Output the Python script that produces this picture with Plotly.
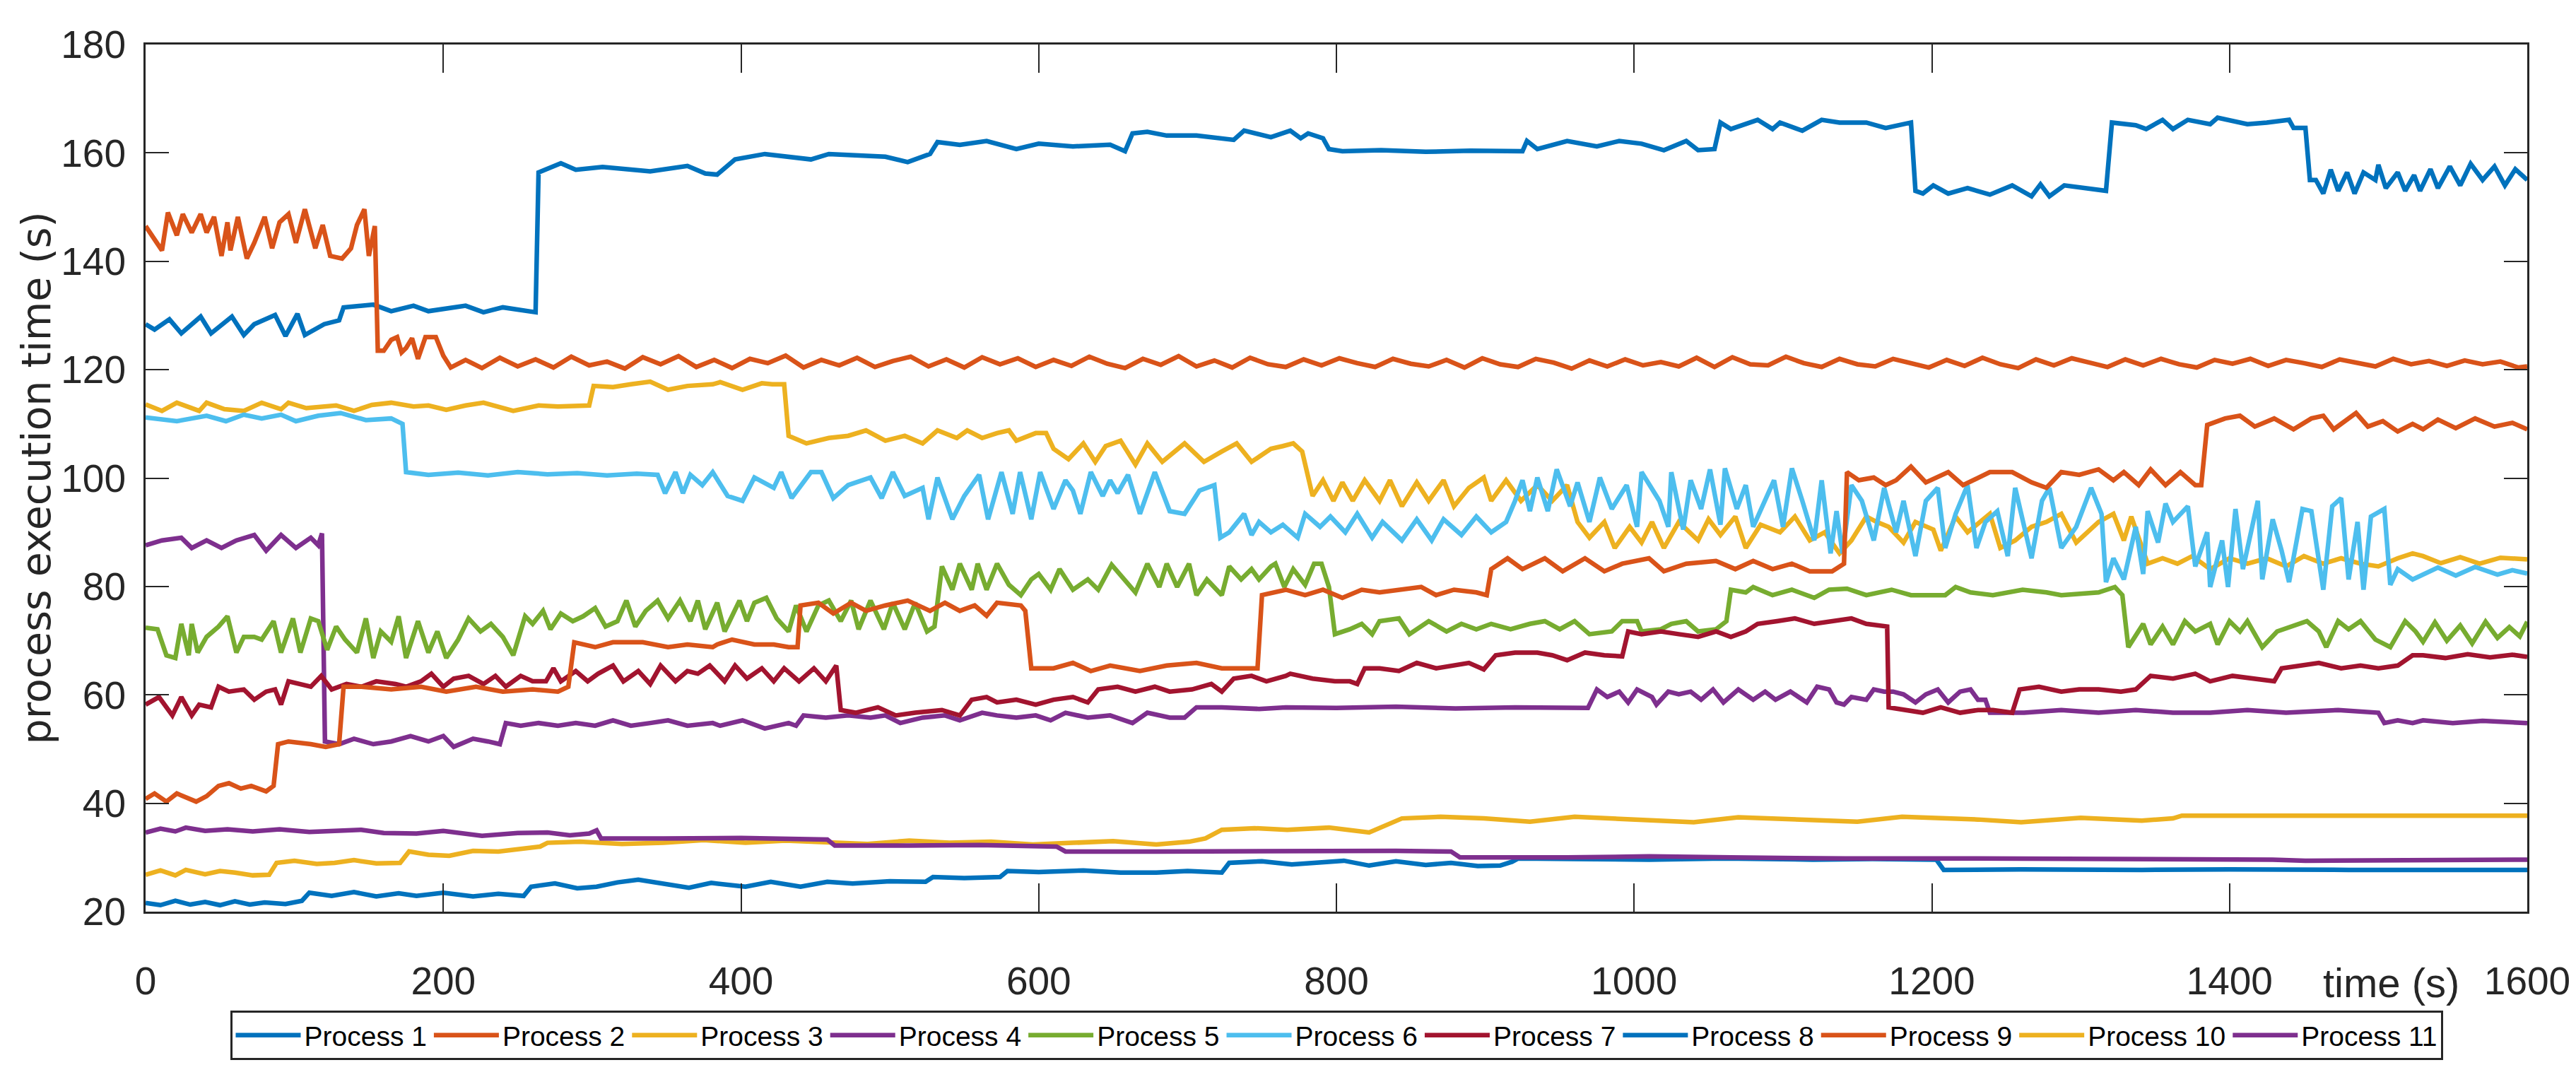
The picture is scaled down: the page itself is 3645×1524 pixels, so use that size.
import plotly.graph_objects as go

# ---------------- data (time s, execution time s) ----------------
p1 = [(0,128.4),(6,127.4),(16,129.3),(24,126.7),(37,129.8),(44,126.7),(58,129.8),(66,126.4),(73,128.4),(87,130.1),
      (94,126.2),(102,130.3),(107,126.4),(120,128.4),(130,129.1),(133,131.5),(153,132.0),(165,130.8),(180,131.8),(190,130.8),
      (215,131.8),(227,130.6),(240,131.5),(262,130.6),(264,156.4),(279,158.1),(289,156.9),(307,157.4),(339,156.6),(364,157.6),
      (376,156.2),(384,156.0),(396,158.8),(416,159.8),(447,158.8),(459,159.8),(497,159.3),(512,158.3),(527,159.8),(532,162.0),
      (547,161.5),(565,162.2),(585,160.7),(600,161.7),(623,161.2),(648,161.5),(658,160.3),(663,163.6),(673,163.9),(686,163.2),
      (706,163.2),(731,162.4),(738,164.1),(756,162.9),(769,164.1),(776,162.7),(781,163.6),(791,162.7),(795,160.7),(804,160.3),
      (830,160.5),(860,160.2),(890,160.4),(925,160.3),(928,162.2),(935,160.7),(955,162.2),(975,161.2),(990,162.2),(1005,161.7),
      (1020,160.5),(1035,162.2),(1043,160.5),(1054,160.7),(1058,165.6),(1065,164.4),(1083,166.1),(1093,164.4),(1098,165.6),(1113,164.1),
      (1126,166.1),(1138,165.6),(1156,165.6),(1169,164.6),(1186,165.6),(1189,153.0),(1194,152.5),(1201,154.0),(1211,152.5),(1224,153.5),
      (1239,152.3),(1254,154.0),(1267,152.0),(1273,154.2),(1279,152.0),(1289,154.0),(1317,153.0),(1321,165.6),(1337,165.1),(1344,164.4),
      (1355,166.1),(1362,164.4),(1372,166.1),(1387,165.3),(1392,166.5),(1412,165.3),(1425,165.6),(1440,166.1),(1443,164.6),(1451,164.6),
      (1454,155.0),(1458,155.0),(1463,152.5),(1468,156.9),(1473,153.0),(1479,156.4),(1484,152.5),(1490,156.4),(1498,155.0),(1500,157.8),
      (1505,153.5),(1513,156.4),(1518,153.0),(1524,155.9),(1528,153.0),(1535,157.0),(1540,153.5),(1548,157.5),(1555,154.0),(1562,158.0),
      (1570,155.0),(1578,157.5),(1585,154.0),(1592,157.0),(1600,155.0)]

p2 = [(0,146.5),(11,142),(15,149),(21,144.8),(25,148.7),(31,145.3),(37,148.7),(41,145.3),(46,148.2),(51,141),(55,147.2),
      (57,142),(62,148.2),(68,140.5),(73,143.4),(80,148.2),(85,142.4),(90,147.2),(96,148.7),(101,143.4),(107,149.6),(114,142.4),
      (119,146.7),(124,141),(132,140.5),(138,142.4),(142,146.7),(147,149.6),(150,141),(154,146.5),(156,123.5),(160,123.5),
      (165,125.5),(169,126),(172,123.2),(175,124),(179,125.8),(183,122),(188,126),(195,126),(200,122.6),(205,120.4),
      (215,121.8),(226,120.3),(238,122.2),(250,120.6),(262,121.9),(274,120.4),(286,122.4),(298,120.8),(310,121.5),(322,120.2),
      (334,122.3),(346,121),(358,122.5),(370,120.5),(382,121.8),(394,120.3),(406,122),(418,121.2),(430,122.6),(442,120.4),
      (454,121.8),(466,120.8),(478,122.2),(490,120.5),(502,121.6),(514,122.4),(526,120.6),(538,121.9),(550,120.4),(562,122.3),
      (574,121),(586,122.1),(598,120.5),(610,121.8),(622,120.7),(634,122.4),(646,121.1),(658,120.3),(670,122),(682,120.9),
      (694,122.5),(706,120.6),(718,121.7),(730,120.4),(742,122.2),(754,121),(766,120.5),(778,121.9),(790,120.8),(802,122.1),
      (814,121.2),(826,120.5),(838,122),(850,121.1),(862,120.6),(874,121.8),(886,120.4),(898,122.1),(910,121),(922,120.5),
      (934,122),(946,121.3),(958,120.2),(970,121.7),(982,120.6),(994,121.9),(1006,120.8),(1018,121.4),(1030,120.6),(1042,122.2),
      (1054,120.5),(1066,122.3),(1078,121),(1090,120.8),(1102,122.4),(1114,121.2),(1126,120.5),(1138,122),(1150,121),(1162,120.6),
      (1174,122),(1186,121.1),(1198,120.4),(1210,121.8),(1222,120.7),(1234,122.2),(1246,121),(1258,120.3),(1270,121.9),(1282,120.8),
      (1294,122.1),(1306,121.3),(1318,120.5),(1330,121.9),(1342,120.8),(1354,122),(1366,121),(1378,120.4),(1390,121.8),(1402,121.1),
      (1414,122),(1426,120.7),(1438,121.8),(1450,121.2),(1462,120.5),(1474,121.9),(1486,121.2),(1498,120.6),(1510,122),(1522,121),
      (1534,121.6),(1546,120.7),(1558,121.7),(1570,121),(1582,121.5),(1594,120.4),(1600,120.6)]

p3 = [(0,113.6),(11,112.4),(21,113.9),(36,112.4),(41,113.9),(53,112.7),(66,112.4),(78,113.9),(91,112.7),(96,113.9),
      (108,112.9),(128,113.4),(140,112.4),(152,113.5),(165,113.9),(180,113.2),(190,113.4),(202,112.6),(215,113.4),(227,113.9),
      (247,112.4),(264,113.4),(277,113.2),(289,113.4),(298,113.4),(301,117),(314,116.8),(326,117.3),(339,117.8),(351,116.3),
      (364,117),(381,117.3),(386,117.7),(401,116.3),(414,117.5),(421,117.3),(429,117.3),(432,107.8),(444,106.4),(459,107.4),
      (472,107.8),(484,108.8),(497,106.9),(510,107.8),(522,106.4),(532,108.8),(545,107.4),(552,108.8),(562,107.4),(572,108.3),
      (580,108.8),(585,106.9),(598,108.3),(605,108.3),(610,105.4),(620,103.5),(630,106.4),(638,103),(645,105.9),(655,106.9),
      (665,102.5),(673,106.4),(683,103),(698,106.4),(711,103),(723,104.9),(733,106.4),(743,103),(756,105.4),(764,105.9),
      (771,106.4),(777,104.9),(784,96.7),(791,99.6),(798,95.8),(804,99.2),(811,95.8),(819,99.6),(829,95.8),(836,99.6),
      (844,94.8),(854,99.2),(862,95.8),(872,99.6),(879,94.8),(889,98.2),(899,100.1),(904,95.8),(914,99.6),(924,95.8),
      (935,98.7),(945,95.8),(955,98.7),(962,91.9),(970,89),(980,91.9),(987,87.1),(997,91),(1005,88.1),(1012,91.9),
      (1020,87.1),(1030,91.9),(1043,88.5),(1050,92.4),(1058,89.5),(1068,92.9),(1075,87.1),(1085,91.4),(1098,90),(1108,92.9),
      (1118,88.5),(1128,90),(1138,86.1),(1146,88.5),(1156,92.9),(1163,91.9),(1171,91),(1181,88.1),(1189,91.9),(1201,90.5),
      (1206,86.6),(1216,92.9),(1224,90),(1239,93.4),(1246,87.1),(1256,88.5),(1267,91),(1277,91.9),(1287,93.4),(1297,88.1),
      (1312,91.9),(1322,93.4),(1329,88.5),(1334,92.9),(1345,84.2),(1355,85.2),(1365,84.2),(1375,85.6),(1387,83.2),(1400,85.2),
      (1412,84.2),(1425,85.2),(1438,83.7),(1450,85.6),(1463,84.2),(1475,85.2),(1488,84.2),(1500,83.7),(1513,85.2),(1523,86.1),
      (1530,85.6),(1542,84.3),(1555,85.4),(1568,84.2),(1582,85.3),(1600,85)]

p4 = [(0,87.6),(11,88.5),(24,89),(31,87.1),(41,88.5),(51,87.1),(61,88.5),(73,89.5),(81,86.6),(91,89.5),(101,87.1),
      (111,89),(116,87.6),(118.5,89.8),(120.5,51.4),(130,50.9),(140,51.9),(153,50.9),(165,51.4),(178,52.4),(190,51.4),
      (200,52.4),(207,50.4),(220,51.9),(230,51.4),(238,50.9),(242,54.8),(252,54.3),(264,54.8),(277,54.3),(289,54.8),
      (302,54.3),(314,55.3),(326,54.3),(339,54.8),(351,55.3),(364,54.3),(381,54.8),(386,54.3),(401,55.3),(416,53.8),
      (432,54.8),(437,54.3),(442,56.2),(457,55.8),(472,56.2),(487,55.8),(497,56.2),(507,54.8),(522,55.8),(537,56.2),
      (547,55.3),(562,56.7),(572,56.2),(585,55.8),(598,56.2),(608,55.3),(618,56.7),(633,55.8),(648,56.2),(663,54.8),
      (673,56.7),(688,55.8),(698,55.8),(706,57.7),(723,57.7),(748,57.4),(766,57.7),(800,57.6),(840,57.8),(880,57.5),
      (920,57.7),(969,57.6),(975,61),(982,59.6),(990,60.6),(996,58.6),(1002,61),(1012,59.6),(1015,58.2),(1023,60.6),
      (1030,60.1),(1038,60.6),(1045,59.1),(1053,61),(1060,58.6),(1070,61),(1080,59.1),(1088,60.6),(1095,59.1),(1105,60.6),
      (1116,58.6),(1123,61.5),(1131,61),(1136,58.6),(1141,58.2),(1146,59.6),(1156,59.1),(1161,61),(1168,60.6),(1174,60.6),
      (1181,60.1),(1189,58.6),(1196,60.1),(1204,61),(1211,58.6),(1219,60.6),(1226,61),(1231,59.1),(1236,59.1),(1239,56.7),
      (1249,56.7),(1262,56.7),(1287,57.2),(1312,56.7),(1337,57.2),(1362,56.7),(1387,56.7),(1412,57.2),(1438,56.7),(1473,57.2),
      (1500,56.7),(1504,54.8),(1513,55.3),(1523,54.8),(1530,55.3),(1550,54.8),(1570,55.2),(1600,54.8)]

p5 = [(0,72.4),(8,72.1),(14,67.3),(20,66.8),(24,73.1),(29,67.3),(31,73.1),(35,67.8),(41,70.7),(49,72.6),(55,74.5),
      (61,67.8),(66,70.7),(73,70.7),(78,70.2),(86,73.6),(91,67.8),(99,74.1),(104,67.8),(111,74.1),(116,73.6),(122,68.3),
      (128,72.6),(134,70.2),(142,67.8),(148,74.1),(153,66.8),(158,71.7),(165,69.8),(170,74.5),(175,66.8),(183,73.6),
      (190,67.8),(196,71.7),(202,66.8),(210,70.2),(217,74.1),(225,71.7),(232,73.1),(240,70.7),(247,67.3),(255,74.5),
      (260,73.1),(267,75.5),(272,72.1),(279,75),(287,73.6),(294,74.5),(302,76),(309,72.6),(317,73.6),(323,77.4),
      (329,72.6),(336,75.5),(344,77.4),(351,74.1),(359,77.4),(366,73.6),(371,77.4),(376,72.1),(384,77),(389,71.7),
      (399,77.4),(404,73.6),(409,77),(417,77.9),(424,74.1),(432,71.7),(437,76.5),(444,71.7),(452,76.5),(459,77.4),
      (467,73.6),(474,77.4),(479,72.1),(487,77.4),(496,72.1),(502,77),(510,72.1),(517,77),(525,71.7),(530,72.6),
      (535,83.7),(542,79.4),(547,84.2),(555,79.4),(559,84.2),(565,79.4),(572,84.2),(580,80.3),(588,78.4),(595,81.3),
      (600,82.3),(608,79.4),(614,83.2),(623,79.4),(633,81.3),(640,79.4),(649,84),(658,81.3),(665,78.9),(673,84.2),
      (681,79.9),(686,84.2),(693,79.9),(701,84.2),(706,78.4),(713,81.3),(723,78.4),(728,83.7),(736,81.3),(743,83.2),
      (748,81.3),(756,83.7),(759,84.2),(765,79.9),(771,83.2),(779,80.3),(785,84.2),(790,84.2),(795,79.9),(799,71.2),
      (809,72.1),(817,73.1),(824,71.2),(829,73.6),(842,74.1),(849,71.2),(862,73.6),(874,71.7),(884,73.1),(894,72.1),
      (904,73.1),(917,72.1),(930,73.1),(940,73.6),(950,72.1),(960,73.6),(970,71.2),(985,71.7),(992,73.6),(1002,73.6),
      (1005,71.7),(1018,72.1),(1025,73.1),(1035,73.6),(1043,71.7),(1055,72.1),(1062,73.6),(1065,79.4),(1075,78.9),(1080,79.9),
      (1093,78.4),(1106,79.4),(1121,77.9),(1131,79.4),(1143,79.6),(1156,78.4),(1173,79.4),(1186,78.4),(1209,78.4),(1216,79.9),
      (1226,78.9),(1241,78.4),(1261,79.4),(1277,78.9),(1287,78.4),(1312,78.9),(1323,79.9),(1328,78.4),(1332,68.8),(1342,73.1),
      (1347,69.3),(1355,72.6),(1362,69.3),(1370,73.6),(1377,71.7),(1387,73.1),(1392,69.3),(1400,73.6),(1407,71.7),(1412,73.6),
      (1422,68.8),(1432,71.7),(1442,72.6),(1452,73.6),(1460,71.7),(1465,68.8),(1473,73.6),(1480,72.1),(1488,73.6),(1498,70.2),
      (1508,68.8),(1518,73.6),(1525,71.7),(1530,69.8),(1538,73.4),(1546,70),(1555,72.8),(1563,69.5),(1572,73.5),(1580,70.5),
      (1588,72.5),(1595,70.8),(1600,73.5)]

p6 = [(0,111.2),(21,110.5),(41,111.5),(54,110.5),(66,111.7),(78,111),(91,111.7),(101,110.5),(116,111.5),(131,112),
      (148,110.7),(165,111),(172.6,110),(175,101.1),(190,100.6),(210,101),(230,100.5),(250,101.1),(270,100.7),(290,100.9),
      (310,100.5),(330,100.8),(344,100.6),(349,97.2),(356,101.1),(361,97.2),(366,100.6),(374,98.7),(381,101.1),(391,96.7),
      (401,95.8),(409,100.1),(422,98.2),(427,101.1),(434,96.3),(447,101.1),(454,101.1),(462,96.3),(472,98.7),(487,100.1),
      (494.5,96.3),(502,101.1),(510,96.7),(522,98.2),(526,92.4),(532,100.1),(542,92.4),(550,96.7),(560,100.6),(566,92.4),
      (575,101.1),(582.5,93.4),(587.5,101.1),(595,92.4),(601,101.1),(610,94.3),(618,99.6),(623,97.7),(628,93.4),(635,101.1),
      (643,96.7),(648,99.6),(653,97.2),(660,100.6),(668,93.4),(678,101.1),(688,93.9),(698,93.4),(708,97.7),(718,98.7),
      (722,89),(728,90),(738,93.4),(743,89.5),(748,91.9),(756,90),(764,91.4),(774,89),(779,93.4),(789,91),
      (796,92.9),(806,90),(814,93.4),(824,89),(831,91.9),(844,88.5),(854,92.4),(864,88.5),(872,92.4),(884,89.5),
      (894,92.9),(904,90),(914,91.9),(920,95.8),(925,99.6),(930,93.9),(935,100.1),(942,93.9),(948,101.6),(957,94.8),
      (962,99.2),(970,91.9),(977,100.1),(985,94.3),(995,98.7),(1002,91),(1005,101.1),(1017,95.8),(1023,91),(1025,101.1),
      (1033,90.5),(1038,99.6),(1045,94.3),(1051,101.6),(1058,91.4),(1061,101.8),(1069,94.3),(1075,98.7),(1080,91),(1088,95.8),
      (1094,99.6),(1100,91),(1106,101.8),(1113,95.8),(1121,88.5),(1126,99.6),(1132,86.1),(1136,93.9),(1140,86.1),(1146,98.7),
      (1153,95.8),(1161,88.5),(1168,98.2),(1176,90),(1181,95.8),(1189,85.6),(1196,95.8),(1204,98.2),(1209,87.1),(1216,93.4),
      (1224,98.7),(1230,87.1),(1236,91.9),(1244,93.9),(1251,85.6),(1256,98.2),(1267,85.2),(1274,95.8),(1279,98.2),(1287,87.1),
      (1297,91),(1307,98.2),(1314,93.4),(1317,80.8),(1322,85.2),(1329,81.3),(1337,91),(1342,82.3),(1345,93.9),(1352,88.1),
      (1357,95.3),(1362,91.9),(1372,94.8),(1377,83.7),(1385,90),(1387,79.9),(1395,88.5),(1399,79.9),(1404,94.3),(1409,83.2),
      (1419,95.8),(1422,81.3),(1429,92.4),(1435,86.6),(1440,80.8),(1449,94.3),(1455,93.9),(1463,79.4),(1469,94.8),(1475,96.3),
      (1480,81.3),(1486,91.9),(1490,79.4),(1495,92.9),(1504,94.3),(1508,80.3),(1513,83.2),(1523,81.3),(1530,82.3),(1540,83.5),
      (1552,82),(1565,83.6),(1580,82.2),(1590,83),(1600,82.4)]

p7 = [(0,58.2),(9,59.6),(18,56.2),(24,59.6),(31,56.2),(36,58.2),(44,57.7),(49,61.5),(56,60.6),(66,61),(73,59.1),
      (81,60.6),(87,61),(91,58.2),(96,62.5),(103,62),(111,61.5),(118,63.5),(125,61),(135,62),(145,61.5),(155,62.5),
      (168,62),(175,61.5),(185,62.5),(192,63.9),(200,61.5),(207,63),(217,63.5),(227,62),(235,63.5),(242,61.5),
      (252,63.5),(260,62.5),(269,62.5),(274,64.9),(279,62.5),(289,64.4),(297,62.5),(304,63.9),(314,65.4),(321,62.5),
      (331,64.4),(339,62),(346,65.4),(356,62.5),(364,64.4),(371,63.9),(379,65.4),(389,62.5),(396,65.4),(404,63),
      (414,64.9),(422,62.5),(429,64.9),(439,62.5),(449,64.9),(457,62.5),(464,65.4),(467,57.2),(477,56.7),(492,57.7),
      (504,56.2),(517,56.7),(535,57.2),(547,56.2),(555,59.1),(565,59.6),(572,58.6),(585,59.1),(598,58.2),(610,59.1),
      (623,59.6),(633,58.6),(640,61),(653,61.5),(665,60.6),(678,61.5),(688,60.6),(703,61),(716,62),(723,60.6),
      (731,63),(743,63.5),(753,62.5),(766,63.5),(769,63.9),(784,63),(799,62.5),(809,62.5),(814,62),(819,64.9),
      (829,64.9),(842,64.4),(854,65.9),(867,64.9),(879,65.4),(889,65.9),(899,64.7),(907,67.3),(920,67.8),(935,67.8),
      (945,67.3),(955,66.4),(967,67.8),(980,67.3),(992,67.1),(996,71.7),(1005,71.2),(1018,71.7),(1030,71.2),(1043,70.7),
      (1055,71.7),(1065,70.7),(1075,71.7),(1083,73.1),(1096,73.6),(1108,74.1),(1121,73.1),(1133,73.6),(1146,74.1),(1156,73.1),
      (1166,72.6),(1170,72.6),(1171,57.7),(1181,57.2),(1194,56.7),(1206,57.7),(1219,56.7),(1231,57.2),(1241,57.2),(1254,56.7),
      (1259,61),(1272,61.5),(1287,60.6),(1299,61),(1312,61),(1327,60.6),(1337,61),(1347,63.5),(1362,63),(1377,63.9),
      (1387,62.5),(1402,63.5),(1417,63),(1430,62.5),(1435,64.9),(1448,65.4),(1460,65.9),(1475,64.9),(1488,65.4),(1500,64.9),
      (1513,65.4),(1523,67.3),(1530,67.3),(1545,66.8),(1560,67.5),(1575,66.9),(1590,67.4),(1600,67)]

p8 = [(0,21.6),(10,21.2),(20,22),(30,21.3),(40,21.8),(50,21.2),(60,21.9),(70,21.3),(80,21.7),(94,21.4),(105,22),
      (110,23.5),(125,22.9),(140,23.6),(155,22.8),(170,23.4),(182,22.9),(200,23.5),(220,22.8),(237,23.3),(254,22.9),
      (259,24.6),(275,25.2),(290,24.3),(303,24.6),(317,25.4),(331,25.9),(347,25.1),(365,24.4),(380,25.3),(403,24.6),
      (420,25.5),(440,24.6),(458,25.5),(475,25.2),(500,25.6),(524,25.5),(529,26.4),(550,26.2),(574,26.4),(579,27.5),
      (600,27.3),(630,27.6),(655,27.2),(679,27.2),(700,27.5),(723,27.2),(728,29),(750,29.3),(770,28.7),(789,29),
      (805,29.4),(822,28.5),(840,29.3),(860,28.6),(877,29),(895,28.4),(910,28.5),(918,29.2),(922,29.8),(960,29.7),
      (1010,29.6),(1060,29.8),(1120,29.6),(1160,29.7),(1203,29.6),(1208,27.7),(1260,27.8),(1341,27.7),(1400,27.8),(1480,27.7),
      (1540,27.8),(1600,27.7)]

p9 = [(0,40.8),(6,41.8),(14,40.3),(21,41.8),(34,40.3),(41,41.3),(49,43.2),(56,43.7),(64,42.7),(71,43.2),(81,42.2),
      (86,43.2),(89,50.9),(96,51.4),(111,50.9),(121,50.4),(130,50.9),(133,61.5),(145,61.5),(165,61),(185,61.5),(202,60.6),
      (222,61.5),(240,60.6),(260,61),(277,60.6),(284,61.5),(288,69.7),(302,68.8),(314,69.7),(334,69.7),(351,68.8),
      (364,69.3),(381,68.8),(384,69.3),(394,70.2),(409,69.3),(422,69.3),(432,68.8),(438,68.8),(440,76.5),(452,77),
      (462,75),(474,77),(484,75.5),(497,76.5),(512,77.4),(527,75.5),(537,77),(547,75.5),(557,76.5),(565,74.6),
      (572,77),(588,76.5),(591,75.5),(595,64.9),(610,64.9),(623,65.9),(635,64.4),(648,65.4),(668,64.4),(686,65.4),
      (706,65.9),(723,64.9),(743,64.9),(747,64.9),(750,78.4),(758,78.9),(766,79.4),(779,78.4),(791,79.4),(804,77.9),
      (817,79.4),(829,78.9),(842,79.4),(857,79.9),(867,78.4),(879,79.4),(894,78.9),(901,78.4),(904,83.2),(915,85.2),
      (925,83.2),(940,85.2),(952,82.8),(967,85.2),(980,82.8),(992,84.2),(1010,85.2),(1020,82.8),(1035,84.2),(1055,84.7),
      (1068,83.2),(1080,84.7),(1093,83.2),(1106,84.2),(1118,82.8),(1133,82.8),(1141,84.2),(1143,101.1),(1151,99.6),(1161,100.1),
      (1169,98.7),(1176,99.6),(1186,102.1),(1196,99.2),(1211,101.1),(1221,98.7),(1239,101.1),(1254,101.1),(1267,99.2),(1277,98.2),
      (1287,101.1),(1299,100.6),(1312,101.6),(1322,99.6),(1329,101.1),(1339,98.7),(1347,101.6),(1357,98.7),(1367,101.1),(1377,98.7),
      (1381,98.7),(1385,109.8),(1397,111),(1407,111.5),(1417,109.5),(1430,111),(1443,109),(1455,111),(1463,111.5),(1470,109),
      (1485,112),(1493,109.5),(1503,110.5),(1513,108.6),(1523,110),(1530,109),(1540,110.8),(1552,109.2),(1565,111),(1578,109.5),
      (1590,110.2),(1600,109)]

p10 = [(0,26.8),(10,27.6),(20,26.7),(27,27.7),(40,26.9),(50,27.5),(60,27.2),(72,26.7),(83,26.8),(88,29),(100,29.4),
       (115,28.8),(127,29),(140,29.5),(155,28.9),(171,29),(177,31.1),(190,30.5),(204,30.3),(220,31.2),(237,31.1),
       (250,31.5),(265,32),(270,32.7),(292,32.9),(320,32.5),(348,32.7),(375,33.2),(403,32.7),(430,33.1),(458,32.9),
       (485,32.5),(513,33.1),(540,32.7),(568,32.9),(596,32.4),(623,32.7),(650,33),(679,32.4),(701,32.9),(712,33.5),
       (723,35.1),(745,35.4),(767,35.1),(795,35.5),(822,34.6),(844,37.2),(870,37.5),(899,37.2),(930,36.6),(960,37.5),
       (1010,37),(1040,36.5),(1070,37.4),(1120,37),(1150,36.6),(1180,37.5),(1231,37),(1260,36.5),(1300,37.3),(1341,36.8),
       (1362,37.2),(1368,37.7),(1451,37.7),(1520,37.8),(1600,37.7)]

p11 = [(0,34.6),(10,35.3),(20,34.8),(27,35.5),(40,34.9),(55,35.2),(72,34.8),(90,35.2),(110,34.7),(127,34.8),(145,35.1),
       (160,34.5),(182,34.4),(200,34.9),(226,34),(250,34.5),(270,34.6),(285,34.1),(298,34.4),(303,35),(306,33.5),
       (348,33.5),(400,33.6),(458,33.3),(463,32.2),(513,32.2),(560,32.3),(612,32),(618,31.1),(679,31.1),(740,31.2),
       (789,31.1),(840,31.2),(877,31.1),(883,30),(955,30),(1010,30.2),(1065,30),(1142,29.8),(1230,29.8),(1341,29.8),
       (1400,29.7),(1429,29.6),(1451,29.4),(1520,29.5),(1562,29.4),(1600,29.6)]

series_names = ["Process 1", "Process 2", "Process 3", "Process 4", "Process 5", "Process 6",
                "Process 7", "Process 8", "Process 9", "Process 10", "Process 11"]
series_points = [p1, p2, p3, p4, p5, p6, p7, p8, p9, p10, p11]

x_ticks = [0, 200, 400, 600, 800, 1000, 1200, 1400, 1600]
y_ticks = [20, 40, 60, 80, 100, 120, 140, 160, 180]

# ---------------- styling ----------------
colors = ["#0072BD", "#D95319", "#EDB120", "#7E2F8E", "#77AC30", "#4DBEEE",
          "#A2142F", "#0072BD", "#D95319", "#EDB120", "#7E2F8E"]
NARROW = "Liberation Sans Narrow, Arial Narrow, Liberation Sans, Arial, sans-serif"
AX = "#262626"

fig = go.Figure()
for name, pts, col in zip(series_names, series_points, colors):
    fig.add_trace(go.Scatter(
        x=[p[0] for p in pts], y=[p[1] for p in pts],
        mode="lines", name=name,
        line=dict(color=col, width=6.5),
    ))

axis_common = dict(
    ticks="inside", tickwidth=2, tickcolor=AX,
    showline=True, linewidth=3, linecolor=AX, mirror="allticks",
    showgrid=False, zeroline=False,
    tickfont=dict(family=NARROW, size=55, color=AX),
)
fig.update_xaxes(range=[0, 1600], tickvals=x_ticks, ticklen=40, ticklabelstandoff=48, **axis_common)
fig.update_yaxes(range=[20, 180], tickvals=y_ticks, ticklen=33, ticklabelstandoff=14, **axis_common)

fig.update_layout(
    width=3645, height=1524,
    margin=dict(l=198, r=77, t=55, b=242),
    paper_bgcolor="white", plot_bgcolor="white",
    showlegend=True,
    legend=dict(
        orientation="h", x=0.5, xanchor="center", y=-0.114, yanchor="top",
        font=dict(family=NARROW, size=39, color="black"),
        bordercolor=AX, borderwidth=3, bgcolor="white",
        itemwidth=92, tracegroupgap=0,
    ),
    annotations=[
        dict(text="time (s)", xref="paper", yref="paper", x=0.943, y=-0.082,
             xanchor="center", yanchor="middle", showarrow=False,
             font=dict(family=NARROW, size=58, color=AX)),
        dict(text="process execution time (s)", xref="paper", yref="paper",
             x=-0.046, y=0.5, xanchor="center", yanchor="middle", textangle=-90,
             showarrow=False, font=dict(family="DejaVu Sans", size=57, color=AX)),
    ],
)

fig.write_html("out.html")
